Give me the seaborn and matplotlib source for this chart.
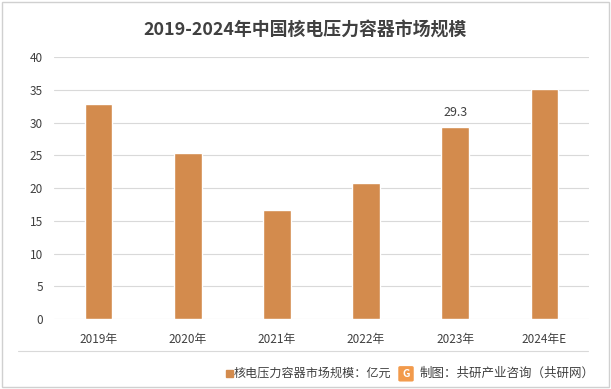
import numpy as np
import pandas as pd
import seaborn as sns
import matplotlib.pyplot as plt
from matplotlib.patches import Rectangle, FancyBboxPatch
from matplotlib.lines import Line2D

# chart data
years = ["2019年", "2020年", "2021年", "2022年", "2023年", "2024年E"]
market_size = [32.8, 25.3, 16.6, 20.8, 29.3, 35.1]
labelled = {"2023年": 29.3}

sns.set_theme(style="white")
plt.rcParams['font.family'] = ['Noto Sans CJK SC', 'DejaVu Sans']

bar_color = "#D38B4D"
text_color = "#404040"

df = pd.DataFrame({"year": years, "value": market_size})

fig = plt.figure(figsize=(6.11, 3.89), dpi=100)
ax = fig.add_axes([0.0884, 0.18, 0.8756, 0.673])

sns.barplot(data=df, x="year", y="value", color=bar_color, width=0.31, saturation=1, ax=ax, zorder=3)

for i, (yr, v) in enumerate(zip(years, market_size)):
    if yr in labelled:
        ax.text(i, v + 1.2, str(labelled[yr]), ha="center", va="bottom", fontsize=9, color=text_color)

ax.set_ylim(0, 40)
ax.set_yticks(np.arange(0, 41, 5))
ax.yaxis.grid(True, color="#D9D9D9", linewidth=0.8, zorder=0)
ax.set_axisbelow(True)
for s in ax.spines.values():
    s.set_visible(False)
ax.set_xlabel("")
ax.set_ylabel("")
ax.tick_params(axis="y", length=0, labelsize=8.5, colors=text_color, pad=8)
ax.tick_params(axis="x", length=0, labelsize=8.5, colors=text_color, pad=10)
for lbl in ax.get_xticklabels() + ax.get_yticklabels():
    lbl.set_fontweight("medium")

fig.suptitle("2019-2024年中国核电压力容器市场规模", x=0.5, y=0.945, fontsize=12.9,
             fontweight="bold", color=text_color)

# separator line under the plot area
fig.add_artist(Line2D([0.029, 0.962], [0.098, 0.098], color="#D9D9D9", linewidth=0.8))

# legend / source
fig.add_artist(Rectangle((0.370, 0.032), 0.011, 0.018, color=bar_color, transform=fig.transFigure))
fig.text(0.383, 0.040, "核电压力容器市场规模：亿元", fontsize=8.7, color=text_color, va="center")
fig.add_artist(FancyBboxPatch((0.655, 0.023), 0.019, 0.032, boxstyle="round,pad=0.002",
                              color="#F29A4B", transform=fig.transFigure))
fig.text(0.6645, 0.039, "G", fontsize=7.5, color="white", fontweight="bold", ha="center", va="center")
fig.text(0.687, 0.040, "制图：共研产业咨询（共研网）", fontsize=9, color=text_color, va="center")

# outer frame
fig.add_artist(Rectangle((0.003, 0.004), 0.994, 0.992, fill=False, edgecolor="#D0D0D0",
                         linewidth=1, transform=fig.transFigure))

fig.savefig("out.png", dpi=100)
